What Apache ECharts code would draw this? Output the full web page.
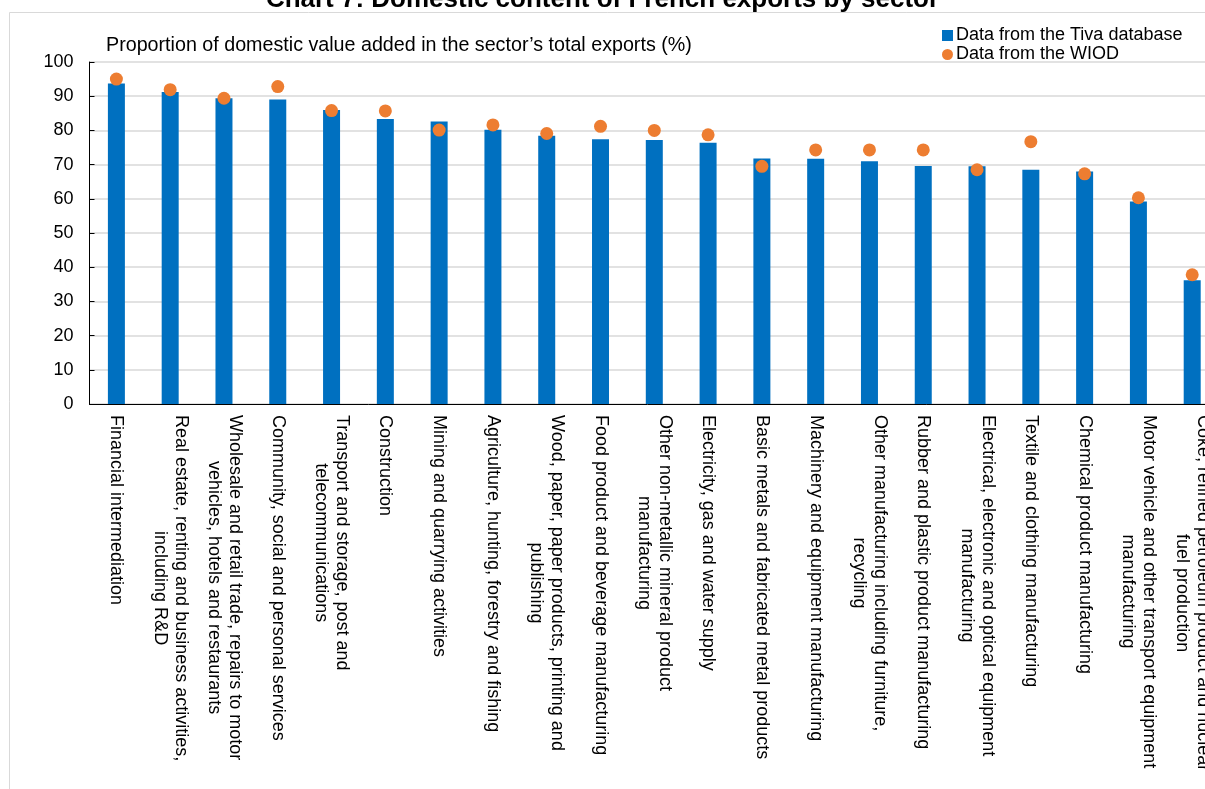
<!DOCTYPE html>
<html>
<head>
<meta charset="utf-8">
<title>Domestic content of French exports by sector</title>
<script src="https://cdn.jsdelivr.net/npm/echarts@6/dist/echarts.min.js"></script>
<style>
  html, body { margin: 0; padding: 0; background: #ffffff; }
  #chart { width: 1205px; height: 789px; }
</style>
</head>
<body>
<div id="chart"></div>
<script>
// Sectors, sorted by the Tiva domestic share
const categories = [
  'Financial intermediation',
  'Real estate, renting and business activities,\nincluding R&D',
  'Wholesale and retail trade, repairs to motor\nvehicles, hotels and restaurants',
  'Community, social and personal services',
  'Transport and storage, post and\ntelecommunications',
  'Construction',
  'Mining and quarrying activities',
  'Agriculture, hunting, forestry and fishing',
  'Wood, paper, paper products, printing and\npublishing',
  'Food product and beverage manufacturing',
  'Other non-metallic mineral product\nmanufacturing',
  'Electricity, gas and water supply',
  'Basic metals and fabricated metal products',
  'Machinery and equipment manufacturing',
  'Other manufacturing including furniture,\nrecycling',
  'Rubber and plastic product manufacturing',
  'Electrical, electronic and optical equipment\nmanufacturing',
  'Textile and clothing manufacturing',
  'Chemical product manufacturing',
  'Motor vehicle and other transport equipment\nmanufacturing',
  'Coke, refined petroleum product and nuclear\nfuel production'
];

// Domestic value added as % of the sector's total exports
const tivaShares = [93.7, 91.2, 89.4, 89.0, 86.0, 83.3, 82.6, 80.2, 78.4, 77.4, 77.2,
                    76.4, 71.8, 71.7, 71.0, 69.6, 69.5, 68.5, 68.0, 59.2, 36.2];
const wiodShares = [95.0, 91.9, 89.4, 92.8, 85.8, 85.7, 80.1, 81.6, 79.1, 81.2, 80.0,
                    78.7, 69.5, 74.3, 74.3, 74.3, 68.5, 76.7, 67.3, 60.3, 37.8];

const yTicks = { min: 0, max: 100, interval: 10 };

const seriesNames = ['Data from the Tiva database', 'Data from the WIOD'];
const chartTitle = 'Chart 7: Domestic content of French exports by sector';
const axisTitle = 'Proportion of domestic value added in the sector\u2019s total exports (%)';

const FONT = '"Liberation Sans", Arial, Helvetica, sans-serif';

const chart = echarts.init(document.getElementById('chart'), null, { renderer: 'canvas' });

chart.setOption({
  animation: false,
  backgroundColor: '#ffffff',
  textStyle: { fontFamily: FONT, color: '#000000' },
  graphic: [{
    type: 'rect',
    z: -10,
    silent: true,
    shape: { x: 9.5, y: 12.5, width: 1300, height: 900 },
    style: { fill: 'none', stroke: '#d9d9d9', lineWidth: 1 }
  }],
  title: [{
    text: chartTitle,
    left: 'center',
    top: -13,
    padding: 0,
    textStyle: { fontFamily: FONT, fontSize: 26, fontWeight: 'bold', color: '#000000' }
  }, {
    text: axisTitle,
    left: 106,
    top: 36,
    padding: 0,
    textStyle: { fontFamily: FONT, fontSize: 19.7, fontWeight: 'normal', color: '#000000' }
  }],
  legend: {
    orient: 'vertical',
    left: 942,
    top: 26,
    padding: 0,
    itemGap: 0,
    itemWidth: 11,
    itemHeight: 11,
    selectedMode: false,
    textStyle: { fontFamily: FONT, fontSize: 18, color: '#000000', lineHeight: 19, padding: [0, 0, 0, -2] },
    data: [
      { name: seriesNames[0], icon: 'rect' },
      { name: seriesNames[1], icon: 'circle' }
    ]
  },
  // plot area runs past the right edge of the page, so the last sector is clipped
  grid: { left: 89.5, top: 62, width: 1129.6, height: 342, containLabel: false, outerBoundsMode: 'none' },
  xAxis: {
    type: 'category',
    data: categories,
    axisLine: { lineStyle: { color: '#000000', width: 1 } },
    axisTick: { show: false },
    axisLabel: {
      interval: 0,
      rotate: -90,
      margin: 11,
      fontFamily: FONT,
      fontSize: 18,
      lineHeight: 21,
      color: '#000000',
      formatter: (v) => v.split('\n').map(s => '{c|' + s + '}').join('\n'),
      rich: { c: { align: 'center', fontFamily: FONT, fontSize: 18, lineHeight: 21, color: '#000000' } }
    }
  },
  yAxis: {
    type: 'value',
    min: yTicks.min,
    max: yTicks.max,
    interval: yTicks.interval,
    axisLine: { show: true, lineStyle: { color: '#000000', width: 1 } },
    axisTick: { show: true, inside: true, length: 5, lineStyle: { color: '#000000' } },
    splitLine: { lineStyle: { color: '#d9d9d9', width: 1.5 } },
    axisLabel: { fontFamily: FONT, fontSize: 18, color: '#000000', margin: 16 }
  },
  series: [{
    name: seriesNames[0],
    type: 'bar',
    data: tivaShares,
    barWidth: 17,
    itemStyle: { color: '#0070c0' },
    z: 2
  }, {
    name: seriesNames[1],
    type: 'scatter',
    data: wiodShares,
    symbol: 'circle',
    symbolSize: 13,
    itemStyle: { color: '#ed7d31', opacity: 1 },
    z: 3
  }]
});
</script>
</body>
</html>
